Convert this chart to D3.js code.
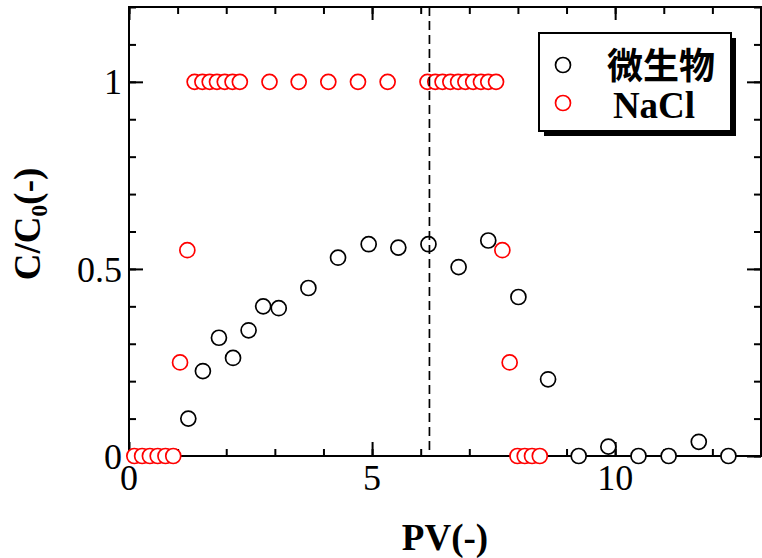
<!DOCTYPE html>
<html lang="ja">
<head>
  <meta charset="UTF-8" />
  <title>C/C0 vs PV</title>
  <script src="https://d3js.org/d3.v7.min.js"></script>
  <style>
    body {
      margin: 0;
      background: #fff;
    }
    svg {
      display: block;
    }
    .tick-label {
      font-family: "Liberation Serif", serif;
      font-size: 36px;
      fill: #000;
    }
    .title {
      font-family: "Liberation Serif", serif;
      font-weight: bold;
      font-size: 37px;
      fill: #000;
    }
  </style>
</head>
<body>
  <svg id="chart" width="762" height="558"></svg>

  <script>
    // 微生物 (microbe) breakthrough
    const microPV = [1.22, 1.52, 1.85, 2.14, 2.46, 2.76, 3.08, 3.69, 4.30, 4.93, 5.54, 6.16,
                     6.78, 7.39, 8.01, 8.62, 9.25, 9.86, 10.48, 11.10, 11.72, 12.33];
    const microC = [0.10, 0.227, 0.316, 0.262, 0.336, 0.40, 0.395, 0.449, 0.530, 0.566, 0.557, 0.566,
                    0.505, 0.576, 0.425, 0.205, 0, 0.025, 0, 0, 0.038, 0];

    // NaCl tracer
    const naclPV = [0.11, 0.27, 0.43, 0.59, 0.75, 0.91, 1.05, 1.20,
                    1.35, 1.51, 1.66, 1.81, 1.97, 2.13, 2.28,
                    2.89, 3.49, 4.10, 4.71, 5.32,
                    6.14, 6.30, 6.45, 6.61, 6.77, 6.92, 7.08, 7.24, 7.39, 7.55,
                    7.68, 7.83, 7.99, 8.14, 8.29, 8.45];
    const naclC = [0, 0, 0, 0, 0, 0, 0.25, 0.55,
                   1, 1, 1, 1, 1, 1, 1,
                   1, 1, 1, 1, 1,
                   1, 1, 1, 1, 1, 1, 1, 1, 1, 1,
                   0.55, 0.25, 0, 0, 0, 0];

    const xMajor = [0, 5, 10];
    const xMinor = d3.range(0, 14, 1);
    const yMajor = [0, 0.5, 1];
    const yMinor = d3.range(0, 1.21, 0.1);
    const yLabels = ["0", "0.5", "1"];
    const switchPV = 6.18;

    const svg = d3.select("#chart");
    const plotL = 129, plotR = 761, plotT = 7, plotB = 456;

    const x = d3.scaleLinear().domain([0, 13]).range([plotL, plotR]);
    const y = d3.scaleLinear().domain([0, 1.2]).range([plotB, plotT]);

    // frame
    svg.append("rect")
      .attr("x", plotL).attr("y", plotT)
      .attr("width", plotR - plotL).attr("height", plotB - plotT)
      .attr("fill", "none").attr("stroke", "#000").attr("stroke-width", 2);

    function ticks(axisFn, scale, values, size, tx, ty) {
      const g = svg.append("g")
        .attr("transform", `translate(${tx},${ty})`)
        .call(axisFn(scale).tickValues(values).tickSize(size).tickFormat(""));
      g.select(".domain").remove();
      g.selectAll("line").attr("stroke-width", 2);
      return g;
    }

    // inward ticks on all four sides
    ticks(d3.axisBottom, x, xMinor, -7, 0, plotB);
    ticks(d3.axisBottom, x, xMajor, -14, 0, plotB);
    ticks(d3.axisTop, x, xMinor, -7, 0, plotT);
    ticks(d3.axisTop, x, xMajor, -13, 0, plotT);
    ticks(d3.axisLeft, y, yMinor, -7, plotL, 0);
    ticks(d3.axisLeft, y, yMajor, -14, plotL, 0);
    ticks(d3.axisRight, y, yMinor, -7, plotR, 0);
    ticks(d3.axisRight, y, yMajor, -14, plotR, 0);

    // tick labels
    svg.selectAll(".xlab")
      .data(xMajor)
      .join("text")
      .attr("class", "tick-label")
      .attr("x", d => x(d))
      .attr("y", plotB + 34)
      .attr("text-anchor", "middle")
      .text(d => d);

    svg.selectAll(".ylab")
      .data(yMajor)
      .join("text")
      .attr("class", "tick-label")
      .attr("x", plotL - 7)
      .attr("y", d => y(d))
      .attr("dy", "0.35em")
      .attr("text-anchor", "end")
      .text((d, i) => yLabels[i]);

    // axis titles
    svg.append("text")
      .attr("class", "title")
      .attr("x", (plotL + plotR) / 2)
      .attr("y", 550)
      .attr("text-anchor", "middle")
      .text("PV(-)");

    const yt = svg.append("text")
      .attr("class", "title")
      .attr("transform", `translate(40,224) rotate(-90)`)
      .attr("text-anchor", "middle");
    yt.append("tspan").text("C/C");
    yt.append("tspan").attr("font-size", "24px").attr("dy", 7).text("0");
    yt.append("tspan").attr("dy", -7).text("(-)");

    // points
    const r = 7.5;
    function points(pv, c, color) {
      svg.append("g")
        .selectAll("circle")
        .data(pv.map((d, i) => [d, c[i]]))
        .join("circle")
        .attr("cx", d => x(d[0]))
        .attr("cy", d => y(d[1]))
        .attr("r", r)
        .attr("fill", "#fff")
        .attr("stroke", color)
        .attr("stroke-width", 1.7);
    }
    points(microPV, microC, "#000");
    points(naclPV, naclC, "#ff0000");

    // switch line
    svg.append("line")
      .attr("x1", x(switchPV)).attr("x2", x(switchPV))
      .attr("y1", y(1.2)).attr("y2", y(0))
      .attr("stroke", "#000")
      .attr("stroke-width", 1.7)
      .attr("stroke-dasharray", "9,5");

    // legend
    const lg = svg.append("g").attr("transform", "translate(539,33)");
    lg.append("rect")
      .attr("x", 5).attr("y", 5).attr("width", 192).attr("height", 98)
      .attr("fill", "#000");
    lg.append("rect")
      .attr("width", 192).attr("height", 98)
      .attr("fill", "#fff").attr("stroke", "#000").attr("stroke-width", 2);

    const legendItems = [
      { label: "微生物", color: "#000", cy: 32, font: "'Noto Sans CJK JP', sans-serif", tx: 122, ty: 46 },
      { label: "NaCl", color: "#ff0000", cy: 70, font: "'Liberation Serif', serif", tx: 115, ty: 85 }
    ];
    legendItems.forEach(d => {
      lg.append("circle")
        .attr("cx", 24).attr("cy", d.cy).attr("r", r)
        .attr("fill", "#fff").attr("stroke", d.color).attr("stroke-width", 1.7);
      lg.append("text")
        .attr("x", d.tx).attr("y", d.ty)
        .attr("text-anchor", "middle")
        .attr("font-family", d.font)
        .attr("font-weight", "bold")
        .attr("font-size", d.label === "NaCl" ? "37px" : "36px")
        .text(d.label);
    });
  </script>
</body>
</html>
